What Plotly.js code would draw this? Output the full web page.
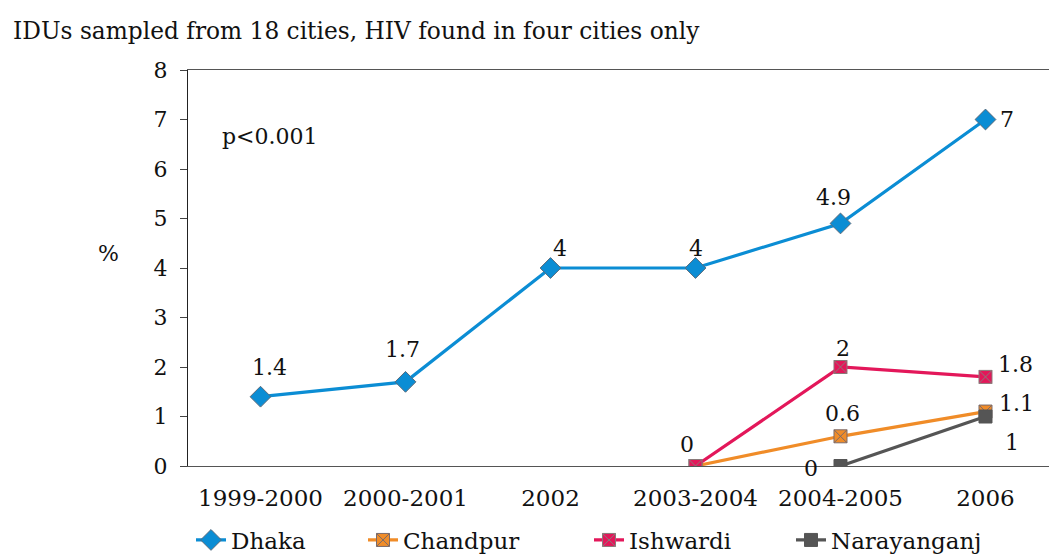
<!DOCTYPE html>
<html>
<head>
<meta charset="utf-8">
<script src="https://cdn.plot.ly/plotly-3.0.1.min.js"></script>
<style>html,body{margin:0;padding:0;background:#fff;}#chart{width:1049px;height:555px;}</style>
</head>
<body>
<div id="chart"></div>
<script>
const categories = ["1999-2000", "2000-2001", "2002", "2003-2004", "2004-2005", "2006"];
const dhaka = [1.4, 1.7, 4, 4, 4.9, 7];
const chandpur = [null, null, null, 0, 0.6, 1.1];
const ishwardi = [null, null, null, 0, 2, 1.8];
const narayanganj = [null, null, null, null, 0, 1];
const yTicks = [0, 1, 2, 3, 4, 5, 6, 7, 8];
const chartTitle = "IDUs sampled from 18 cities, HIV found in four cities only";
const pNote = "p<0.001";

const FONT = "DejaVu Serif, serif";
const FS = 22;
const PL = 188, PW = 861, PT = 70, PH = 396;
function px2x(px) { return (px - PL) / PW; }
function px2y(py) { return (PT + PH - py) / PH; }

// label offsets in pixels (dx, dy) relative to each point; null = no label drawn
const labelOffsets = {
  Dhaka:       [[9, -29], [-3, -32], [9, -20], [1, -20], [-7, -26], [22, 0]],
  Chandpur:    [null, null, null, null, [2, -23], [31, -8]],
  Ishwardi:    [null, null, null, [-8, -22], [3, -19], [30, -12]],
  Narayanganj: [null, null, null, null, [-29, 2], [27, 26]]
};

const series = [
  {name: "Dhaka", values: dhaka, color: "#0b8dd4", symbol: "diamond", size: 16, edge: "#5a6a7a", legend: "legend"},
  {name: "Chandpur", values: chandpur, color: "#f08c28", symbol: "square-x", size: 13, edge: "#7a6a6a", legend: "legend2"},
  {name: "Ishwardi", values: ishwardi, color: "#e3175a", symbol: "square-x", size: 13, edge: "#8a7a7a", legend: "legend3"},
  {name: "Narayanganj", values: narayanganj, color: "#555555", symbol: "square", size: 13, edge: "#555555", legend: "legend4"}
];

const traces = series.map(s => ({
  name: s.name, x: categories, y: s.values, mode: "lines+markers", legend: s.legend,
  line: {color: s.color, width: 3.2},
  marker: {symbol: s.symbol, size: s.size, color: s.color, line: {color: s.edge, width: 1}}
}));

const labelAnnotations = [];
series.forEach(s => {
  s.values.forEach((v, i) => {
    const off = labelOffsets[s.name][i];
    if (v === null || !off) return;
    labelAnnotations.push({
      text: String(v), xref: "x", yref: "y", x: i, y: v,
      xshift: off[0], yshift: -off[1], xanchor: "center", yanchor: "middle",
      showarrow: false, font: {family: FONT, size: FS, color: "#111"}
    });
  });
});

function leg(textStartPx) {
  return {orientation: "h", xref: "container", yref: "container",
          x: (textStartPx - 40) / 1049, xanchor: "left", y: 15 / 555, yanchor: "middle",
          font: {family: FONT, size: 23, color: "#111"}, itemwidth: 30, bgcolor: "rgba(0,0,0,0)"};
}

const layout = {
  width: 1049, height: 555,
  margin: {l: PL, r: 0, t: PT, b: 555 - PT - PH},
  paper_bgcolor: "#ffffff", plot_bgcolor: "#ffffff",
  font: {family: FONT, size: FS, color: "#111111"},
  showlegend: true,
  legend: leg(231), legend2: leg(403), legend3: leg(629), legend4: leg(831),
  xaxis: {type: "category", range: [-0.5, 5.438], showgrid: false, zeroline: false,
          showline: true, linecolor: "#555", linewidth: 1, mirror: true, ticks: "",
          ticklabelstandoff: 11,
          tickfont: {family: FONT, size: 23, color: "#111"}},
  yaxis: {range: [0, 8], tickvals: yTicks, showgrid: false, zeroline: false,
          showline: true, linecolor: "#222", linewidth: 1, ticks: "outside", ticklen: 7,
          tickcolor: "#444", ticklabelstandoff: 8,
          tickfont: {family: FONT, size: FS, color: "#111"}},
  annotations: [
    {text: chartTitle, xref: "paper", yref: "paper", x: px2x(11), y: px2y(30),
     xanchor: "left", yanchor: "middle", showarrow: false,
     font: {family: FONT, size: 23.3, color: "#111"}},
    {text: "%", xref: "paper", yref: "paper", x: px2x(108), y: px2y(253),
     xanchor: "center", yanchor: "middle",
     showarrow: false, font: {family: FONT, size: FS, color: "#111"}},
    {text: pNote, xref: "x", yref: "y", x: 0, y: 6.65, xanchor: "center", yanchor: "middle",
     xshift: 9, showarrow: false, font: {family: FONT, size: FS, color: "#111"}}
  ].concat(labelAnnotations)
};

Plotly.newPlot("chart", traces, layout, {displayModeBar: false, staticPlot: true});
</script>
</body>
</html>
